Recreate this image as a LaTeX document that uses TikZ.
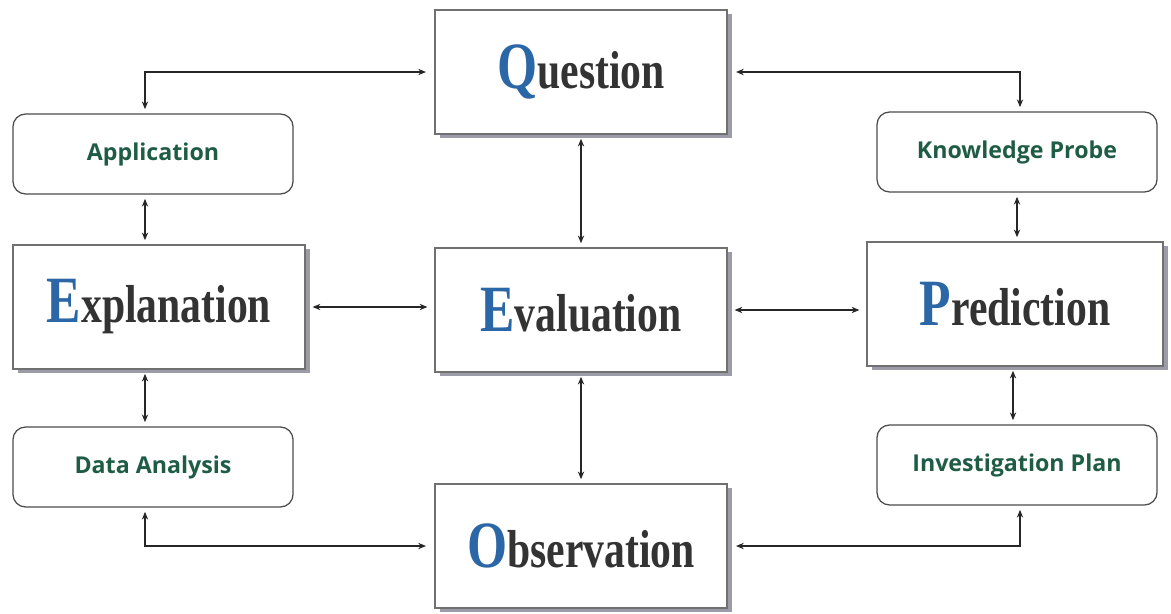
\documentclass[tikz,border=0pt]{standalone}
\usepackage{graphicx}
\usepackage{fontspec}
\setmainfont{Liberation Serif}
\newfontfamily\labelfont{Open Sans}
\usepackage{tikz}
\usetikzlibrary{positioning,shadows,arrows.meta}
\usepackage{xcolor}
\definecolor{capblue}{HTML}{2B66A6}
\definecolor{wordgray}{HTML}{333333}
\definecolor{labelgreen}{HTML}{1F5C46}
\definecolor{shadowgray}{HTML}{9C9CA8}
\definecolor{framegray}{HTML}{707070}

\newcommand{\stepword}[2]{\scalebox{0.78}[1]{\bfseries\textcolor{capblue}{\fontsize{47}{47}\selectfont #1}\textcolor{wordgray}{\fontsize{38}{38}\selectfont #2}}}

\begin{document}
\begin{tikzpicture}[x=0.025cm, y=-0.025cm,
      stepbox/.style={draw=framegray, line width=0.8pt, fill=white,
        minimum width=7.3cm, minimum height=3.1cm,
        drop shadow={shadow xshift=1.2mm, shadow yshift=-1mm, fill=shadowgray, opacity=1}},
      skillbox/.style={draw=black!70, line width=0.9pt, rounded corners=9pt, fill=white,
        minimum width=7cm, minimum height=2cm, text=labelgreen,
        font=\labelfont\bfseries\fontsize{16.5}{16.5}\selectfont},
      link/.style={{Stealth[length=5.5pt,width=4.5pt]}-{Stealth[length=5.5pt,width=4.5pt]},
        line width=0.8pt, black!85, shorten <=3pt, shorten >=3pt}
    ]
    \useasboundingbox (0,0) rectangle (1171,613);

    % main steps
    \node[stepbox] (question) at (581,72) {\stepword{Q}{uestion}};
    \node[stepbox] (evaluation) at (581,310) {\stepword{E}{valuation}};
    \node[stepbox] (observation) at (581,546) {\stepword{O}{bservation}};
    \node[stepbox] (explanation) at (159,307) {\stepword{E}{xplanation}};
    \node[stepbox, minimum width=7.4cm] (prediction) at (1015,304) {\stepword{P}{rediction}};

    % skills
    \node[skillbox] (application) at (153,154) {Application};
    \node[skillbox] (probe) at (1017,152) {Knowledge Probe};
    \node[skillbox] (analysis) at (153,467) {Data Analysis};
    \node[skillbox] (plan) at (1017,465) {Investigation Plan};

    % outer loop
    \draw[link, shorten <=6pt] (question.west) -| ([xshift=-2mm]application.north);
    \draw[link, shorten <=6pt] (question.east) -| ([xshift=0.75mm]probe.north);
    \draw[link, shorten <=6pt] (observation.west) -| ([xshift=-2mm]analysis.south);
    \draw[link, shorten <=6pt] (observation.east) -| ([xshift=0.75mm]plan.south);

    % side columns
    \draw[link] ([xshift=-2mm]application.south) -- ([xshift=-2mm]application.south |- explanation.north);
    \draw[link] ([xshift=-2mm]analysis.north) -- ([xshift=-2mm]analysis.north |- explanation.south);
    \draw[link] (probe.south) -- (probe.south |- prediction.north);
    \draw[link] ([xshift=-1mm]plan.north) -- ([xshift=-1mm]plan.north |- prediction.south);

    % centre
    \draw[link] (question.south) -- (evaluation.north);
    \draw[link] (evaluation.south) -- (observation.north);
    \draw[link, shorten <=5pt, shorten >=5pt] (explanation.east) -- (explanation.east -| evaluation.west);
    \draw[link, shorten <=5pt, shorten >=5pt] (evaluation.east) -- (evaluation.east -| prediction.west);
\end{tikzpicture}
\end{document}
